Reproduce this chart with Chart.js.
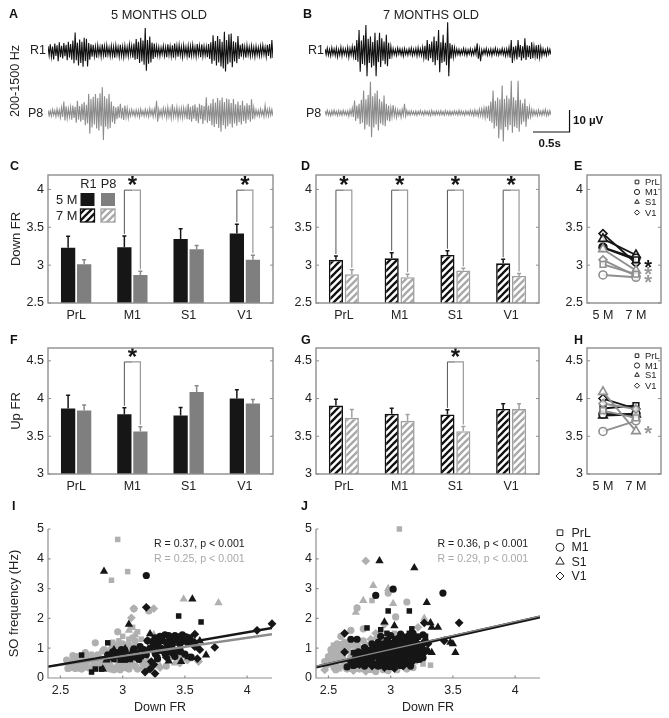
<!DOCTYPE html>
<html>
<head>
<meta charset="utf-8">
<script src="https://cdn.jsdelivr.net/npm/chart.js@4"></script>
<style>
  html, body { margin: 0; padding: 0; background: #fff; }
  #page { position: relative; width: 669px; height: 718px; overflow: hidden; font-family: "Liberation Sans", Arial, sans-serif; }
  #page canvas { position: absolute; }
  #page span { position: absolute; white-space: nowrap; line-height: 1; }
</style>
</head>
<body>
<div id="page"></div>
<script>
// raw traces: upper and lower envelope, in uV
const a5R1Up = [2.2,3.1,2.0,3.4,2.6,4.0,2.4,3.6,2.8,4.2,3.2,4.8,8.4,3.8,5.2,4.2,6.0,5.6,3.6,3.0,2.8,2.0,2.6,1.8,3.0,2.2,2.6,1.6,2.4,2.0,2.6,1.8,2.8,2.0,2.4,1.8,3.0,2.4,3.4,5.4,4.2,6.0,4.8,10.5,5.0,6.6,3.8,3.4,2.2,1.8,1.6,2.4,1.8,3.0,2.2,2.6,3.4,2.4,2.8,2.0,2.6,1.8,2.4,2.2,2.8,1.8,3.2,2.4,3.0,2.2,2.0,3.2,4.0,7.2,4.6,6.8,5.4,4.2,8.8,5.0,7.6,8.0,4.4,4.0,6.8,2.8,3.4,2.0,2.6,1.8,2.4,1.8,2.2,1.6,2.2,2.6,1.8,2.8,3.2,5.0];
const a5R1Down = [2.0,2.6,3.8,2.2,4.6,2.8,3.4,2.4,4.2,3.0,4.0,5.6,4.2,6.6,5.4,7.2,4.6,7.0,4.0,2.6,2.4,3.0,1.8,2.6,2.0,2.8,1.8,2.4,2.2,3.0,1.8,2.6,2.2,2.8,2.0,2.4,1.8,3.0,4.0,3.6,5.4,4.8,6.2,9.0,5.8,5.2,3.6,2.8,2.0,2.4,1.6,2.2,2.8,1.8,2.4,3.0,2.2,2.6,2.0,2.8,1.8,2.4,3.0,2.2,2.0,2.6,1.8,2.8,2.4,2.0,2.8,3.6,5.8,4.4,6.6,5.2,7.0,8.0,9.3,6.0,5.2,7.4,4.8,5.6,3.6,2.6,2.2,3.0,1.8,2.4,2.0,2.6,1.8,2.2,2.0,1.6,2.6,2.2,3.4,3.2];
const a5P8Up = [1.2,1.0,1.6,1.2,1.8,1.4,2.4,5.2,3.0,2.0,2.6,3.4,2.8,5.6,3.2,4.2,5.0,3.8,8.8,6.4,7.4,8.6,6.8,9.0,11.7,7.6,6.6,8.6,5.2,3.2,2.6,3.0,4.2,2.4,3.4,2.2,1.2,1.6,1.0,1.4,1.2,1.8,1.0,1.6,1.2,2.0,1.4,1.8,5.6,1.6,1.4,2.2,1.8,2.6,1.6,4.0,1.8,2.6,1.8,2.2,2.4,2.0,4.2,2.8,3.4,4.0,2.6,4.2,3.6,3.2,7.2,3.4,4.4,6.4,4.8,6.8,5.8,7.0,5.0,6.6,6.2,4.6,6.4,4.0,5.2,3.6,5.6,3.4,4.4,3.6,6.2,2.4,1.4,1.2,1.8,1.2,3.4,1.6,2.0,1.6];
const a5P8Down = [1.2,1.4,1.0,1.6,1.2,2.0,1.8,3.4,2.4,1.8,3.0,2.2,4.4,3.0,4.0,3.2,5.6,4.8,9.4,6.6,5.2,7.0,8.0,6.0,12.3,6.2,7.4,6.8,4.2,5.0,2.8,2.2,2.6,3.2,1.8,2.4,1.4,1.0,1.6,1.2,1.8,1.0,1.4,1.2,1.6,1.0,1.8,1.2,4.0,1.4,1.8,1.2,2.2,1.6,2.4,1.8,1.6,2.6,1.8,2.2,1.6,2.8,3.0,4.0,2.6,3.6,4.6,2.8,5.0,3.4,4.4,3.6,5.6,6.4,5.0,6.8,8.5,5.6,7.2,6.0,5.0,6.6,4.8,5.8,4.2,5.2,3.6,4.8,3.0,4.0,2.8,1.8,1.2,1.4,1.0,1.6,1.2,1.4,1.0,1.4];
const b7R1Up = [1.4,1.8,1.2,2.0,1.4,1.8,1.2,2.2,1.6,1.4,2.0,1.6,2.4,2.8,5.5,10.0,5.2,7.6,12.3,6.0,7.0,4.6,8.8,5.4,8.8,6.2,4.8,7.8,4.2,2.6,1.6,1.2,1.8,1.4,1.2,1.6,1.0,1.4,1.8,1.2,1.6,2.0,1.4,2.2,2.8,5.5,3.6,4.8,7.0,5.0,10.0,4.4,7.8,4.2,13.5,4.0,3.3,2.0,1.4,1.2,1.0,1.6,1.2,1.0,1.4,1.0,1.8,4.0,1.4,1.0,1.2,1.6,1.0,1.4,1.2,1.8,1.2,1.0,1.6,1.2,1.4,2.0,5.5,2.4,2.8,5.5,3.2,2.6,6.3,3.0,2.8,4.4,2.6,3.0,3.3,2.2,1.4,1.0,1.6,1.2];
const b7R1Down = [1.2,1.4,1.8,1.2,1.6,2.2,1.4,1.8,1.2,1.6,2.4,1.4,2.0,3.6,4.4,9.0,5.4,6.0,11.0,5.0,7.0,6.2,11.0,4.6,6.8,4.0,5.6,6.5,3.2,1.8,1.2,1.6,1.0,1.4,1.8,1.2,1.4,1.0,1.6,1.2,1.8,1.4,1.6,2.6,3.4,4.0,2.8,4.6,6.0,3.8,9.2,5.0,4.4,6.0,11.0,3.0,2.4,1.6,1.2,1.4,1.0,1.2,1.6,1.0,1.4,1.2,1.0,3.0,4.2,1.2,1.0,1.4,1.2,1.6,1.0,1.2,1.4,1.0,1.2,1.8,1.4,2.6,5.0,2.2,3.4,2.4,3.8,2.8,3.6,2.4,3.2,2.8,2.0,3.0,2.4,1.8,1.2,1.6,1.0,1.2];
const b7P8Up = [0.9,1.2,0.8,1.0,1.3,0.8,1.1,0.9,1.2,0.8,1.0,1.4,2.2,5.7,3.4,4.2,6.0,10.2,6.2,8.2,14.2,7.6,9.0,10.2,6.4,5.2,8.0,4.2,3.4,2.4,3.6,1.8,1.4,1.2,1.6,4.2,1.2,0.8,1.0,0.7,0.9,0.8,1.1,0.7,1.0,0.8,0.9,1.2,0.7,0.9,0.8,1.0,0.7,1.1,0.8,0.9,0.7,1.0,0.8,1.2,0.9,0.7,1.0,0.8,1.2,0.9,1.4,1.0,1.6,1.8,2.2,3.0,3.4,5.2,10.2,5.6,7.0,6.2,12.5,6.4,8.0,6.6,14.7,7.2,5.8,14.7,6.0,4.4,6.5,3.2,2.6,1.6,1.2,1.0,1.4,0.9,1.2,1.6,0.9,1.1];
const b7P8Down = [0.8,1.0,1.2,0.9,0.8,1.2,0.9,1.1,0.8,1.0,1.4,0.9,1.8,3.6,2.6,5.0,4.4,7.5,5.4,6.2,11.0,6.6,5.2,8.0,4.8,5.6,6.0,3.4,3.8,1.8,1.4,2.0,1.2,2.0,1.0,1.4,0.9,1.0,0.7,0.9,1.1,0.7,0.8,1.0,0.7,0.9,1.2,0.8,1.0,0.7,0.9,0.8,1.1,0.7,0.9,1.0,0.8,0.7,1.0,0.9,0.8,1.1,0.7,1.0,0.9,1.3,1.0,1.4,1.2,1.6,2.0,2.4,3.6,4.4,7.0,6.0,11.5,7.6,13.0,6.4,7.8,5.6,9.0,6.2,6.8,8.5,5.2,4.0,6.2,2.8,1.8,1.2,1.0,1.3,0.9,1.1,0.8,1.2,1.0,0.9];
const scaleBarSeconds = [0, 0.5, 0.5];
const scaleBarMicrovolts = [0, 0, 10];

// firing rates, one entry per region
const regions = ['PrL', 'M1', 'S1', 'V1'];
const ageLabels = ['5 M', '7 M'];
const downTicks = [2.5, 3, 3.5, 4];
const upTicks = [3, 3.5, 4, 4.5];

const downR1m5 = [3.23, 3.235, 3.346, 3.416];
const downR1m5Err = [3.38, 3.385, 3.48, 3.54];
const downP8m5 = [3.01, 2.87, 3.21, 3.07];
const downP8m5Err = [3.07, 2.92, 3.26, 3.13];
const downR1m7 = [3.07, 3.09, 3.134, 3.024];
const downR1m7Err = [3.12, 3.165, 3.19, 3.077];
const downP8m7 = [2.88, 2.84, 2.93, 2.857];
const downP8m7Err = [2.94, 2.88, 2.96, 2.89];

const upR1m5 = [3.868, 3.793, 3.775, 4.0];
const upR1m5Err = [4.044, 3.877, 3.88, 4.115];
const upP8m5 = [3.84, 3.564, 4.088, 3.934];
const upP8m5Err = [3.916, 3.626, 4.17, 3.987];
const upR1m7 = [3.907, 3.797, 3.789, 3.863];
const upR1m7Err = [3.99, 3.87, 3.85, 3.93];
const upP8m7 = [3.744, 3.705, 3.568, 3.86];
const upP8m7Err = [3.855, 3.79, 3.63, 3.93];

// scatter panels: [Down FR, SO frequency]
const freqTicks = [0, 1, 2, 3, 4, 5];
const fitTicks = [2.5, 3, 3.5, 4];
const fitXRange = [2.4, 4.2];
const iFitBlack = [0.38, 1.68];
const iFitGray = [0.38, 1.47];
const jFitBlack = [0.37, 2.05];
const jFitGray = [0.4, 2.08];

const iGrayCircle = [[2.55,.6],[2.58,.35],[2.6,.75],[2.62,.32],[2.64,.5],[2.66,.33],[2.68,.45],[2.7,.62],[2.72,.35],[2.75,.78],[2.77,.55],[2.78,1.18],[2.8,.35],[2.82,.65],[2.84,.9],[2.86,.4],[2.88,.52],[2.9,.3],[2.93,.75],[2.96,1.55],[2.97,.42],[3,.85],[3.02,.35],[3.05,.6],[3.08,1.35],[3.09,2.32],[3.1,.4],[3.13,.95],[3.16,.5],[3.21,2.25],[3.2,.38],[2.95,1.1],[2.98,.28]];
const iGrayDense = [[2.56,.32],[2.6,.55],[2.64,.72],[2.67,.3],[2.7,.48],[2.72,.72],[2.75,.3],[2.78,.48],[2.8,.78],[2.83,.32],[2.85,.55],[2.88,.85],[2.9,.42],[2.93,.28],[2.95,.6],[2.98,.95],[3,.45],[3.02,.75],[3.05,.3],[3.07,.5],[3.1,.8],[3.12,.3],[3.15,.6],[3.17,.35],[3.2,.5],[3.23,.3],[3.26,.45],[2.85,.95],[2.92,1.05],[3,1.15],[3.05,1.1],[3.1,1.25],[3.14,1.05],[2.7,.85],[2.62,.42],[3.28,.62],[3.35,.4],[3.38,.7],[3.46,.62],[3.55,.68]];
const iGraySquare = [[2.96,4.65],[3.04,3.57],[2.91,3.28],[2.6,.45],[2.65,.4],[2.72,.55],[2.78,.32],[2.83,.5],[2.9,.95],[2.92,1.2],[2.97,1.25],[3,1.4],[3.05,1.3],[3.08,1.7],[3.12,1.55],[3.15,1.3],[3.1,1.1],[3.04,.95],[3,.35],[3.1,.65],[3.18,.85],[2.86,.3]];
const iGrayTriangle = [[3.49,2.65],[3.77,2.52],[3.05,1.6],[3.1,1.45],[2.7,.4],[2.8,.6],[2.95,.8],[3.02,.5],[3.12,.35],[3.2,.6],[3.25,1.45],[3.3,.4],[3.42,.5]];
const iGrayDiamond = [[3.09,2.33],[3.25,2.33],[3.07,2.02],[3.46,.5],[3.61,.55],[3.52,.6],[3.3,.35],[2.65,.65],[2.75,.35],[2.88,.7],[2.94,.33],[3.06,.45],[3.14,.75],[3.22,.98]];
const iBlackCircle = [[3.19,3.44],[3.3,1.4],[3.32,1.25],[3.34,1.45],[3.36,1.15],[3.38,1.35],[3.4,1.2],[3.42,1.42],[3.44,1.28],[3.46,1.15],[3.48,1.45],[3.5,1.3],[3.52,1.2],[3.54,1.35],[3.56,1.22],[3.24,1.22],[3.28,1.1],[2.92,.88],[2.88,.78],[2.97,.75],[3.05,.68],[3.2,1.25],[3.33,.95],[3.4,.98]];
const iBlackDense = [[3.31,1.32],[3.35,1.2],[3.37,1.42],[3.41,1.3],[3.45,1.38],[3.47,1.22],[3.51,1.38],[3.53,1.27],[3.29,1.25],[3.26,1.35],[2.9,.7],[2.95,.85],[2.99,.68],[3.03,.78],[3.07,.72],[3.11,.82],[3.13,.62],[3.17,.95],[3.19,.78],[3.22,1],[3.26,.85],[3.3,1.02],[3.34,.82],[3.38,.88],[3.42,.72],[3.46,.95],[3.5,.8],[3.14,1.05],[3.09,.98],[2.99,.95],[3.28,.65],[3.55,.7],[3.39,1.05]];
const iBlackSquare = [[3.45,2.08],[3.63,1.88],[2.67,.77],[2.88,1.18],[2.75,.2],[2.78,.3],[2.83,.3],[2.93,.62],[2.98,.6],[3.02,.6],[3.06,.62],[3.1,.68],[3.02,.93],[3.08,.9],[3.15,.72],[3.25,1.05],[3.3,.9],[3.44,.88],[3.52,.72],[3.47,.85]];
const iBlackTriangle = [[2.85,3.58],[3.56,2.65],[3.05,1.8],[3.22,1.48],[2.93,.95],[3.02,.98],[2.87,.6],[2.84,.3],[3.37,.57],[3.47,.55],[3.67,.77],[3.35,1],[3.42,.9],[3.58,1.2],[3.62,1.25]];
const iBlackDiamond = [[3.19,2.37],[4.08,1.6],[4.2,1.82],[3.58,1.47],[3.74,1.03],[3.62,.95],[3.18,.2],[3.26,.15],[3.23,.55],[3.25,.45],[3.2,1.25],[3.27,.75],[3.4,.82],[3.6,.65],[3.58,1.05],[3.22,.3],[3.35,.7]];

const jGrayCircle = [[2.73,2.35],[2.98,2.85],[3.13,2.55],[3.04,2.05],[2.78,1.65],[2.6,1.4],[2.68,1.6],[2.5,.6],[2.53,.45],[2.55,.8],[2.58,.35],[2.6,.95],[2.63,.55],[2.65,.3],[2.68,1.1],[2.7,.4],[2.72,.85],[2.75,.3],[2.78,1.25],[2.8,.35],[2.85,.45],[2.88,.3],[2.92,.6],[2.95,.3],[3,1.05],[2.55,1]];
const jGrayDense = [[2.47,.55],[2.5,.72],[2.52,.95],[2.55,.5],[2.57,1.15],[2.6,.6],[2.62,.85],[2.64,.35],[2.66,1.05],[2.68,.7],[2.7,.5],[2.72,1.15],[2.74,.35],[2.76,.95],[2.78,.5],[2.82,1.1],[2.84,.75],[2.86,.32],[2.9,1.2],[2.94,.28],[2.48,.42],[2.53,.62],[2.56,.28],[2.59,.78],[2.63,1.2],[2.67,.55],[2.71,.3],[2.75,.75],[2.8,.95],[2.83,.4],[2.88,.22],[2.98,.25],[3.05,.28],[3.13,.3],[3.18,.35]];
const jGraySquare = [[3.07,5],[2.85,2.6],[3.32,.43],[3.26,.47],[2.52,.8],[2.54,1.1],[2.56,.65],[2.58,.9],[2.6,1.15],[2.62,.7],[2.65,.9],[2.68,.45],[2.7,.7],[2.75,.55],[2.82,.3],[3.03,1.5],[3.12,.45],[3.2,.55]];
const jGrayTriangle = [[2.86,3.1],[2.78,2.6],[3.02,2.5],[2.98,3],[2.72,2.2],[3.27,2],[2.67,1.15],[2.62,1],[2.75,1.05],[2.88,1.35],[2.5,.55],[2.58,.3],[2.68,.3],[2.85,.25]];
const jGrayDiamond = [[2.8,3.93],[2.47,.27],[2.95,1.8],[3.22,1.7],[2.55,.3],[2.62,.4],[2.7,.25],[2.8,.22],[2.88,1.5],[2.84,1.3],[2.72,.95],[2.78,.75],[2.52,.6]];
const jBlackCircle = [[2.88,2.77],[3.02,2.98],[3.42,2.85],[2.92,1.4],[2.68,1.3],[2.73,1.3],[2.65,.37],[2.72,.45],[2.78,.6],[2.84,.65],[2.9,.48],[2.95,.6],[3,.72],[3.06,.52],[3.12,.72],[3.16,.95],[3.1,1.25],[3.04,1.3],[2.98,1.22],[2.93,.85],[2.88,1],[3.14,1.4],[3.2,1.3],[3.25,1.05],[3.05,1.12],[2.96,.45],[3.26,1.45]];
const jBlackDense = [[2.7,.42],[2.79,.4],[2.88,.44],[2.99,.38],[3.08,.42],[3.16,.4],[2.68,.55],[2.75,.6],[2.82,.52],[2.91,.58],[2.99,.53],[3.09,.6],[3.17,.55],[3.23,.62],[2.72,.72],[2.8,.7],[2.87,.76],[2.94,.7],[3.03,.75],[3.11,.68],[3.19,.74],[3.26,.68],[2.74,.88],[2.83,.93],[2.9,.84],[2.97,.9],[3.05,.85],[3.13,.91],[3.21,.86],[3.29,.92],[2.79,1.02],[2.87,1.08],[2.93,1.03],[3.01,1.08],[3.09,1.02],[3.17,1.07],[3.25,1.02],[2.9,1.2],[2.97,1.28],[3.03,1.2],[3.11,1.17],[3.19,1.22],[3.27,1.2],[3,1.42],[3.08,1.47],[3.18,1.5],[2.72,.5],[2.8,.47],[2.9,.4],[2.95,.52],[3.03,.58],[3.12,.58],[2.76,.78],[2.83,.7],[2.9,.76],[2.98,.8],[3.07,.78],[3.15,.78],[3.23,.8],[2.8,.95],[2.86,.9],[2.95,.98],[3.03,.98],[3.11,.95],[3.2,.98],[2.85,1.15],[2.94,1.15],[3.01,1.15],[3.08,1.14],[3.15,1.2],[3.23,1.12],[3.06,1.32],[3.13,1.28],[3.22,1.38],[3.1,1.38],[3.18,1.4]];
const jBlackSquare = [[2.98,2.25],[3.15,2.25],[2.81,1.68],[2.92,1.62],[3.17,1.65],[3.15,1.5],[2.97,1.5],[2.7,.85],[2.76,.85],[2.82,.82],[2.88,.7],[2.94,.95],[2.98,1.1],[3.05,.9],[3.12,1.05],[3.18,.85],[3.24,.75],[2.78,.55],[2.86,.5],[3.2,.6],[3.28,1.4],[3.22,.95],[3,.42],[3.1,.55],[2.76,.5],[2.84,.46],[2.94,.5],[3.04,.46],[3.13,.5],[2.77,.65],[2.85,.62],[2.97,.64],[3.06,.66],[3.15,.62],[2.84,.8],[2.94,.78],[3.01,.82],[3.09,.83],[3.2,.82],[2.9,1.1],[3.06,1.08],[3.14,1.1]];
const jBlackTriangle = [[2.91,3.93],[3.19,3.7],[3.29,2.53],[2.95,1.88],[3.03,1.75],[3.32,1.85],[3.38,1.7],[3.52,.85],[3.33,.85],[3.14,.45],[3.48,1.2],[3.5,1.15],[3.28,1.3],[3.33,1.7],[2.75,.7],[2.85,.82],[2.92,.72],[3,.92],[3.08,.75],[3.16,1.15],[3.24,.9]];
const jBlackDiamond = [[2.63,1.5],[2.63,.87],[3.27,1.85],[3.55,1.85],[3.43,1.25],[2.95,.35],[3.03,.32],[2.85,.4],[2.9,.9],[3.02,.6],[3.1,.4],[3.18,.72],[3.27,.85],[3.3,1.15],[2.96,1.05],[3.08,1],[2.8,.9],[2.75,.45]];

const BLACK = '#161616';
const GRAY = '#7f7f7f';
const FRAME = '#8e8e8e';
const FONT = '"Liberation Sans", Arial, sans-serif';
const shapes = ['rect', 'circle', 'triangle', 'rectRot'];

const page = document.getElementById('page');
Chart.defaults.animation = false;
Chart.defaults.responsive = false;
Chart.defaults.font.family = FONT;
Chart.defaults.color = '#222';

function label(text, x, y, size, opts) {
    opts = opts || {};
    const el = document.createElement('span');
    el.textContent = text;
    el.style.left = x + 'px';
    el.style.top = y + 'px';
    el.style.fontSize = size + 'px';
    el.style.color = opts.color || '#222';
    el.style.fontWeight = opts.weight || 'normal';
    let tf = 'translate(' + (opts.anchor === 'mid' ? '-50%' : '0') + ',-50%)';
    if (opts.rotate) tf = 'translate(-50%,-50%) rotate(-90deg)';
    el.style.transform = tf;
    page.appendChild(el);
}

// canvas placed so that the plot area lands on the rectangle [l,t,r,b]
function addCanvas(l, t, r, b, m) {
    const c = document.createElement('canvas');
    c.width = r - l + m.l + m.r;
    c.height = b - t + m.t + m.b;
    c.style.left = (l - m.l) + 'px';
    c.style.top = (t - m.t) + 'px';
    page.appendChild(c);
    return c;
}

function hatch(color) {
    const p = 7;
    const c = document.createElement('canvas');
    c.width = p; c.height = p;
    const g = c.getContext('2d');
    g.fillStyle = '#fff';
    g.fillRect(0, 0, p, p);
    g.strokeStyle = color;
    g.lineWidth = 2.3;
    g.beginPath();
    g.moveTo(-1, p + 1); g.lineTo(p + 1, -1);
    g.moveTo(-1, 1); g.lineTo(1, -1);
    g.moveTo(p - 1, p + 1); g.lineTo(p + 1, p - 1);
    g.stroke();
    return g.createPattern(c, 'repeat');
}

// box with tick marks inside, on both sides
const boxFrame = {
    id: 'boxFrame',
    afterDatasetsDraw(chart) {
        const a = chart.chartArea, ctx = chart.ctx;
        ctx.save();
        ctx.strokeStyle = FRAME;
        ctx.lineWidth = 1.4;
        ctx.strokeRect(a.left, a.top, a.right - a.left, a.bottom - a.top);
        ctx.lineWidth = 1;
        ctx.beginPath();
        chart.scales.y.ticks.forEach(t => {
            const y = chart.scales.y.getPixelForValue(t.value);
            ctx.moveTo(a.left, y); ctx.lineTo(a.left + 3, y);
            ctx.moveTo(a.right, y); ctx.lineTo(a.right - 3, y);
        });
        ctx.stroke();
        ctx.restore();
    }
};

const openAxes = {
    id: 'openAxes',
    afterDatasetsDraw(chart) {
        const a = chart.chartArea, ctx = chart.ctx;
        ctx.save();
        ctx.strokeStyle = FRAME;
        ctx.lineWidth = 1.2;
        ctx.beginPath();
        ctx.moveTo(a.left, a.top); ctx.lineTo(a.left, a.bottom); ctx.lineTo(a.right, a.bottom);
        chart.scales.y.ticks.forEach(t => {
            const y = chart.scales.y.getPixelForValue(t.value);
            ctx.moveTo(a.left, y); ctx.lineTo(a.left + 2.5, y);
        });
        chart.scales.x.ticks.forEach(t => {
            const x = chart.scales.x.getPixelForValue(t.value);
            ctx.moveTo(x, a.bottom); ctx.lineTo(x, a.bottom - 2.5);
        });
        ctx.stroke();
        ctx.restore();
    }
};

// upper error bars, drawn from the error values through the y scale
function errorCaps(tops, colors) {
    return {
        id: 'errorCaps',
        afterDatasetsDraw(chart) {
            const ctx = chart.ctx, y = chart.scales.y;
            ctx.save();
            tops.forEach((list, d) => {
                const bars = chart.getDatasetMeta(d).data;
                ctx.strokeStyle = colors[d];
                ctx.lineWidth = 1.5;
                ctx.beginPath();
                list.forEach((v, i) => {
                    const px = y.getPixelForValue(v);
                    ctx.moveTo(bars[i].x, bars[i].y);
                    ctx.lineTo(bars[i].x, px);
                    ctx.moveTo(bars[i].x - 2, px);
                    ctx.lineTo(bars[i].x + 2, px);
                });
                ctx.stroke();
            });
            ctx.restore();
        }
    };
}

// significance bracket between the two bars of a region
function brackets(cats, top, tops) {
    return {
        id: 'brackets',
        afterDatasetsDraw(chart) {
            const ctx = chart.ctx, y = chart.scales.y;
            const b0 = chart.getDatasetMeta(0).data, b1 = chart.getDatasetMeta(1).data;
            ctx.save();
            cats.forEach(c => {
                const yt = y.getPixelForValue(top);
                const mid = (b0[c].x + b1[c].x) / 2;
                ctx.lineWidth = 1;
                ctx.strokeStyle = '#555';
                ctx.beginPath();
                ctx.moveTo(b0[c].x, y.getPixelForValue(tops[0][c]) - 2);
                ctx.lineTo(b0[c].x, yt);
                ctx.lineTo(mid, yt);
                ctx.stroke();
                ctx.strokeStyle = '#999';
                ctx.lineWidth = 1.2;
                ctx.beginPath();
                ctx.moveTo(mid, yt);
                ctx.lineTo(b1[c].x, yt);
                ctx.lineTo(b1[c].x, y.getPixelForValue(tops[1][c]) - 2);
                ctx.stroke();
                ctx.font = 'bold 24px ' + FONT;
                ctx.fillStyle = BLACK;
                ctx.textAlign = 'center';
                ctx.textBaseline = 'middle';
                ctx.fillText('*', mid, yt - 4);
            });
            ctx.restore();
        }
    };
}

function barPanel(l, t, r, b, yMax, yTicks, sets, errs, errColors, cats, top, yTitle) {
    const m = { l: yTitle ? l - 6 : 44, r: 8, t: 14, b: 24 };
    new Chart(addCanvas(l, t, r, b, m), {
        type: 'bar',
        data: { labels: regions, datasets: sets },
        options: {
            layout: { padding: { top: m.t, right: m.r, left: 0, bottom: 0 } },
            plugins: { legend: { display: false }, tooltip: { enabled: false } },
            scales: {
                x: {
                    grid: { display: false, drawTicks: false }, border: { display: false },
                    ticks: { font: { size: 12.5 }, padding: 5, maxRotation: 0 },
                    afterFit: s => { s.height = m.b; }
                },
                y: {
                    min: yTicks[0], max: yMax,
                    grid: { display: false, drawTicks: false }, border: { display: false },
                    ticks: { font: { size: 12.5 }, padding: 4, callback: v => String(v) },
                    title: yTitle ? { display: true, text: yTitle, font: { size: 13 }, padding: { top: 3, bottom: 0 } } : { display: false },
                    afterBuildTicks: s => { s.ticks = yTicks.map(v => ({ value: v })); },
                    afterFit: s => { s.width = m.l; }
                }
            }
        },
        plugins: [errorCaps(errs, errColors), brackets(cats, top, errs), boxFrame]
    });
}

function barSet(name, values, fill, border) {
    return {
        label: name, data: values, backgroundColor: fill,
        borderColor: border || fill, borderWidth: border ? 1.6 : 0,
        categoryPercentage: 0.57, barPercentage: 0.89
    };
}

function agePanel(l, t, r, b, yMax, yTicks, black, gray, stars) {
    const m = { l: 44, r: 8, t: 14, b: 24 };
    const sets = [];
    [[black, BLACK], [gray, '#8f8f8f']].forEach(group => {
        regions.forEach((reg, i) => {
            sets.push({
                label: reg,
                data: [{ x: 1, y: group[0][0][i] }, { x: 2, y: group[0][1][i] }],
                borderColor: group[1], borderWidth: 1.9,
                pointStyle: shapes[i], pointRadius: i === 2 ? 5 : 4,
                pointBackgroundColor: 'rgba(255,255,255,0.8)',
                pointBorderColor: group[1], pointBorderWidth: 1.6, showLine: true,
                order: group[1] === BLACK ? 2 : 1
            });
        });
    });
    new Chart(addCanvas(l, t, r, b, m), {
        type: 'scatter',
        data: { datasets: sets },
        options: {
            layout: { padding: { top: m.t, right: m.r, left: 0, bottom: 0 } },
            plugins: { legend: { display: false }, tooltip: { enabled: false } },
            scales: {
                x: {
                    min: 0.515, max: 2.76,
                    grid: { display: false, drawTicks: false }, border: { display: false },
                    ticks: { font: { size: 12.5 }, padding: 5, maxRotation: 0, callback: v => ageLabels[v - 1] },
                    afterBuildTicks: s => { s.ticks = [1, 2].map(v => ({ value: v })); },
                    afterFit: s => { s.height = m.b; }
                },
                y: {
                    min: yTicks[0], max: yMax,
                    grid: { display: false, drawTicks: false }, border: { display: false },
                    ticks: { font: { size: 12.5 }, padding: 4, callback: v => String(v) },
                    afterBuildTicks: s => { s.ticks = yTicks.map(v => ({ value: v })); },
                    afterFit: s => { s.width = m.l; }
                }
            }
        },
        plugins: [boxFrame, {
            id: 'ageStars',
            afterDatasetsDraw(chart) {
                const ctx = chart.ctx;
                ctx.save();
                ctx.textAlign = 'center';
                ctx.textBaseline = 'middle';
                stars.forEach(s => {
                    ctx.font = 'bold 20px ' + FONT;
                    ctx.fillStyle = s[2];
                    ctx.fillText('*', chart.scales.x.getPixelForValue(s[0]), chart.scales.y.getPixelForValue(s[1]) + 3);
                });
                ctx.restore();
            }
        }]
    });
}

function scatterSet(name, pts, shape, color, order) {
    const size = { rect: 3.9, circle: 3.6, triangle: 4.8, rectRot: 4.4 };
    return {
        label: name,
        data: pts.map(p => ({ x: p[0], y: p[1] })),
        pointStyle: shape, pointRadius: size[shape],
        pointBackgroundColor: color, pointBorderColor: color, pointBorderWidth: 0,
        order: order, clip: false
    };
}

function fitSet(name, range, ends, color, width, order) {
    return {
        label: name,
        data: [{ x: range[0], y: ends[0] }, { x: range[1], y: ends[1] }],
        showLine: true, pointRadius: 0, borderColor: color, borderWidth: width, order: order
    };
}

function scatterPanel(l, t, r, b, gray, black, fits, yTitle, rightMargin) {
    const m = { l: yTitle ? l : 44, r: rightMargin, t: 14, b: 718 - b };
    const sets = fits.slice();
    regions.forEach((reg, i) => {
        sets.push(scatterSet(reg + ' P8', gray[i], shapes[i], '#b0b0b0', 3));
        sets.push(scatterSet(reg + ' R1', black[i], shapes[i], BLACK, 2));
    });
    new Chart(addCanvas(l, t, r, b, m), {
        type: 'scatter',
        data: { datasets: sets },
        options: {
            layout: { padding: { top: m.t, right: m.r, left: 0, bottom: 0 } },
            plugins: { legend: { display: false }, tooltip: { enabled: false } },
            scales: {
                x: {
                    min: fitXRange[0], max: fitXRange[1],
                    grid: { display: false, drawTicks: false }, border: { display: false },
                    ticks: { font: { size: 12.5 }, padding: 5, maxRotation: 0, callback: v => String(v) },
                    title: { display: true, text: 'Down FR', font: { size: 12.5 }, padding: { top: 0, bottom: 3 } },
                    afterBuildTicks: s => { s.ticks = fitTicks.map(v => ({ value: v })); },
                    afterFit: s => { s.height = m.b; }
                },
                y: {
                    min: 0, max: 5,
                    grid: { display: false, drawTicks: false }, border: { display: false },
                    ticks: { font: { size: 12.5 }, padding: 4, callback: v => String(v) },
                    title: yTitle ? { display: true, text: yTitle, font: { size: 13 }, padding: { top: 7, bottom: 0 } } : { display: false },
                    afterBuildTicks: s => { s.ticks = freqTicks.map(v => ({ value: v })); },
                    afterFit: s => { s.width = m.l; }
                }
            }
        },
        plugins: [openAxes]
    });
}

// ---- panels A, B: traces
function trace(l, t, up, down, color, w) {
    const flat = [];
    up.forEach((v, i) => { flat.push(v); flat.push(-down[i]); });
    const m = { l: 0, r: 0, t: 0, b: 0 };
    new Chart(addCanvas(l, t, l + w, t + 72, m), {
        type: 'line',
        data: { labels: flat.map((v, i) => i), datasets: [{ data: flat, borderColor: color, borderWidth: 1.1, pointRadius: 0, tension: 0 }] },
        options: {
            plugins: { legend: { display: false }, tooltip: { enabled: false } },
            scales: { x: { display: false }, y: { display: false, min: -16.4, max: 16.4 } }
        }
    });
}
trace(48, 15, a5R1Up, a5R1Down, '#111', 225);
trace(48, 77, a5P8Up, a5P8Down, '#8c8c8c', 225);
trace(325, 16, b7R1Up, b7R1Down, '#111', 226);
trace(325, 77, b7P8Up, b7P8Down, '#8c8c8c', 226);

new Chart(addCanvas(531, 108, 571, 134, { l: 0, r: 0, t: 0, b: 0 }), {
    type: 'scatter',
    data: { datasets: [{
        data: scaleBarSeconds.map((t, i) => ({ x: t, y: scaleBarMicrovolts[i] })),
        showLine: true, pointRadius: 0, borderColor: '#111', borderWidth: 1.2
    }] },
    options: {
        plugins: { legend: { display: false }, tooltip: { enabled: false } },
        scales: { x: { display: false, min: -0.027, max: 0.52 }, y: { display: false, min: -0.9, max: 10.9 } }
    }
});

// ---- panels C to H
const hatchBlack = hatch('#111');
const hatchLight = hatch('#a8a8a8');

barPanel(48, 175, 273, 303, 4.19, downTicks,
    [barSet('R1', downR1m5, BLACK), barSet('P8', downP8m5, GRAY)],
    [downR1m5Err, downP8m5Err], [BLACK, '#8a8a8a'], [1, 3], 3.99, 'Down FR');
barPanel(316, 175, 539, 303, 4.19, downTicks,
    [barSet('R1', downR1m7, hatchBlack, '#111'), barSet('P8', downP8m7, hatchLight, '#a0a0a0')],
    [downR1m7Err, downP8m7Err], [BLACK, '#a0a0a0'], [0, 1, 2, 3], 3.99, null);
barPanel(48, 348, 273, 474, 4.67, upTicks,
    [barSet('R1', upR1m5, BLACK), barSet('P8', upP8m5, GRAY)],
    [upR1m5Err, upP8m5Err], [BLACK, '#8a8a8a'], [1], 4.485, 'Up FR');
barPanel(316, 348, 539, 474, 4.67, upTicks,
    [barSet('R1', upR1m7, hatchBlack, '#111'), barSet('P8', upP8m7, hatchLight, '#a0a0a0')],
    [upR1m7Err, upP8m7Err], [BLACK, '#a0a0a0'], [2], 4.485, null);

agePanel(587, 175, 661, 303, 4.19, downTicks, [downR1m5, downR1m7], [downP8m5, downP8m7],
    [[2.37, 3.0, BLACK], [2.37, 2.9, '#999'], [2.37, 2.8, '#999']]);
agePanel(587, 348, 661, 474, 4.67, upTicks, [upR1m5, upR1m7], [upP8m5, upP8m7],
    [[2.37, 3.57, '#999']]);

// ---- panels I, J
scatterPanel(48, 529, 272, 678,
    [iGraySquare, iGrayCircle.concat(iGrayDense), iGrayTriangle, iGrayDiamond],
    [iBlackSquare, iBlackCircle.concat(iBlackDense), iBlackTriangle, iBlackDiamond],
    [fitSet('R1 fit', fitXRange, iFitBlack, BLACK, 2.4, 0), fitSet('P8 fit', fitXRange, iFitGray, '#8c8c8c', 2.4, 1)],
    'SO frequency (Hz)', 8);
scatterPanel(316, 529, 540, 678,
    [jGraySquare, jGrayCircle.concat(jGrayDense), jGrayTriangle, jGrayDiamond],
    [jBlackSquare, jBlackCircle.concat(jBlackDense), jBlackTriangle, jBlackDiamond],
    [fitSet('P8 fit', fitXRange, jFitGray, '#8c8c8c', 1.2, 0), fitSet('R1 fit', fitXRange, jFitBlack, BLACK, 3, 1)],
    null, 8);

// ---- legends: hollow region markers and the swatches of panel C
const overlay = document.createElement('canvas');
overlay.width = 669; overlay.height = 718;
overlay.style.left = '0px'; overlay.style.top = '0px';
page.appendChild(overlay);
const lg = overlay.getContext('2d');
const legendRowsE = [182, 192, 202, 212.5];
const legendRowsH = [355.7, 365.5, 375, 385.7];
const legendRowsJ = [532.7, 547.3, 561.7, 576];
lg.strokeStyle = '#222';
lg.fillStyle = '#fff';
regions.forEach((reg, i) => {
    Chart.helpers.drawPoint(lg, { pointStyle: shapes[i], radius: 2.6, borderWidth: 1, rotation: 0 }, 637, legendRowsE[i]);
    Chart.helpers.drawPoint(lg, { pointStyle: shapes[i], radius: 2.6, borderWidth: 1, rotation: 0 }, 637, legendRowsH[i]);
    Chart.helpers.drawPoint(lg, { pointStyle: shapes[i], radius: i === 2 ? 4.8 : 4, borderWidth: 1.2, rotation: 0 }, 560, legendRowsJ[i]);
    label(reg, 645, legendRowsE[i], 9.4);
    label(reg, 645, legendRowsH[i], 9.4);
    label(reg, 571.5, legendRowsJ[i], 12.4);
});
lg.fillStyle = BLACK;
lg.fillRect(80.5, 193, 14, 13);
lg.fillStyle = GRAY;
lg.fillRect(101, 193, 14, 13);
lg.lineWidth = 1.3;
lg.fillStyle = hatch('#111');
lg.strokeStyle = '#111';
lg.fillRect(80.5, 209, 14, 13);
lg.strokeRect(80.5, 209, 14, 13);
lg.fillStyle = hatch('#a8a8a8');
lg.strokeStyle = '#a0a0a0';
lg.fillRect(101, 209, 14, 13);
lg.strokeRect(101, 209, 14, 13);

// ---- text
[['A', 9, 14], ['B', 303, 14], ['C', 10, 166], ['D', 301, 166], ['E', 574, 166],
 ['F', 10, 340], ['G', 301, 340], ['H', 574, 340], ['I', 12, 506], ['J', 301, 506]].forEach(p => {
    label(p[0], p[1], p[2], 12.5, { weight: 'bold', color: '#111' });
});
label('5 MONTHS OLD', 159, 15, 12.8, { anchor: 'mid' });
label('7 MONTHS OLD', 431, 15, 12.8, { anchor: 'mid' });
label('200-1500 Hz', 15, 81, 12.6, { rotate: true });
label('R1', 30, 50, 12.5);
label('P8', 28, 113, 12.5);
label('R1', 308, 50, 12.5);
label('P8', 306, 113, 12.5);
label('10 µV', 573, 120.5, 11.5, { weight: 'bold', color: '#111' });
label('0.5s', 538.5, 144, 11.5, { weight: 'bold', color: '#111' });
label('R1', 88.5, 184, 12.8, { anchor: 'mid' });
label('P8', 108.5, 184, 12.8, { anchor: 'mid' });
label('5 M', 56, 200, 12.8);
label('7 M', 56, 216, 12.8);
label('R = 0.37, p < 0.001', 154, 543, 10.6);
label('R = 0.25, p < 0.001', 154, 558, 10.6, { color: '#a8a8a8' });
label('R = 0.36, p < 0.001', 437.5, 543, 10.6);
label('R = 0.29, p < 0.001', 437.5, 558, 10.6, { color: '#a8a8a8' });
</script>
</body>
</html>
